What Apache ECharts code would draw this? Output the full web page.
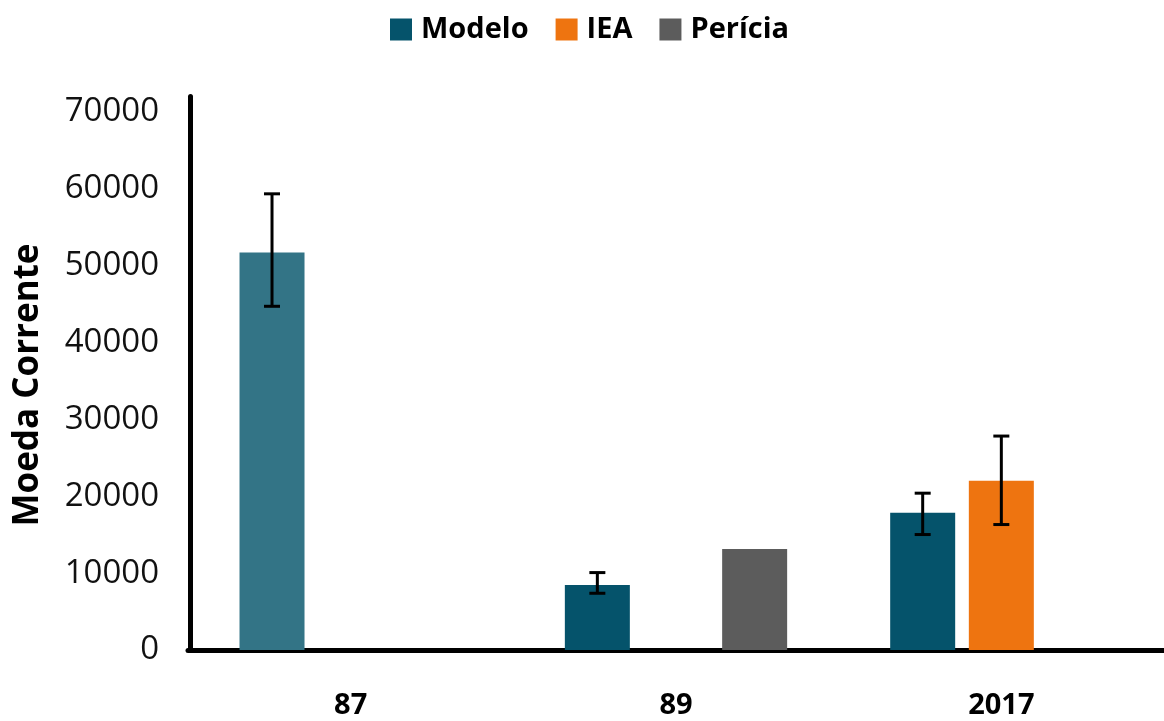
<!DOCTYPE html>
<html>
<head>
<meta charset="utf-8">
<script src="https://cdn.jsdelivr.net/npm/echarts@6/dist/echarts.min.js"></script>
<style>html,body{margin:0;padding:0;background:#fff}#c{width:1164px;height:721px}</style>
</head>
<body>
<div id="c"></div>
<script>
const categories = ['87', '89', '2017'];
const seriesNames = ['Modelo', 'IEA', 'Perícia'];
const modelo = [51700, 8470, 17840];
const iea = [null, null, 22010];
const pericia = [null, 13150, null];
const modeloErrHigh = [59340, 10070, 20400];
const modeloErrLow = [44710, 7380, 15020];
const ieaErrHigh = [null, null, 27830];
const ieaErrLow = [null, null, 16320];
const yTicks = [0, 10000, 20000, 30000, 40000, 50000, 60000, 70000];

const colors = ['#05536B', '#EE7410', '#5C5C5C'];
const firstBarColor = '#337486';
const BAR_W = 65;
const BAR_GAP = 0.21;
const FONT = '"Open Sans", "Noto Sans", sans-serif';

const chart = echarts.init(document.getElementById('c'), null, {renderer: 'canvas'});

function errSeries(seriesIdx, high, low) {
  const data = [];
  high.forEach((h, i) => { if (h != null) data.push([i, low[i], h]); });
  return {
    type: 'custom',
    name: seriesNames[seriesIdx] + ' err',
    z: 10,
    silent: true,
    renderItem: function (params, api) {
      const ci = api.value(0);
      const pLow = api.coord([ci, api.value(1)]);
      const pHigh = api.coord([ci, api.value(2)]);
      const step = BAR_W * (1 + BAR_GAP);
      const x = pLow[0] + (seriesIdx - 1) * step;
      const cap = 8;
      const st = {stroke: '#000', lineWidth: 3};
      return {
        type: 'group',
        children: [
          {type: 'line', shape: {x1: x, y1: pLow[1], x2: x, y2: pHigh[1]}, style: st},
          {type: 'line', shape: {x1: x - cap, y1: pLow[1], x2: x + cap, y2: pLow[1]}, style: st},
          {type: 'line', shape: {x1: x - cap, y1: pHigh[1], x2: x + cap, y2: pHigh[1]}, style: st}
        ]
      };
    },
    encode: {x: 0, y: [1, 2]},
    data: data
  };
}

const option = {
  backgroundColor: '#fff',
  animation: false,
  textStyle: {fontFamily: FONT},
  legend: {
    top: 15,
    left: 390,
    padding: 0,
    icon: 'rect',
    itemWidth: 22,
    itemHeight: 22,
    itemGap: 27,
    data: seriesNames,
    textStyle: {fontFamily: FONT, fontWeight: 'bold', fontSize: 29, color: '#000', padding: [0, 0, 0, 4]}
  },
  grid: {left: 188, width: 980, top: 96.5, height: 650 - 96.5, containLabel: false},
  xAxis: {
    type: 'category',
    data: categories,
    axisLine: {lineStyle: {color: '#000', width: 5}},
    axisTick: {show: false},
    axisLabel: {fontFamily: FONT, fontWeight: 'bold', fontSize: 29, color: '#000', margin: 41}
  },
  yAxis: {
    type: 'value',
    min: 0,
    max: 72000,
    interval: 10000,
    offset: -2,
    axisLine: {show: true, lineStyle: {color: '#000', width: 5}},
    axisTick: {show: false},
    splitLine: {show: false},
    axisLabel: {
      fontFamily: FONT, fontSize: 33, color: '#111', margin: 31,
      formatter: function (v) { return yTicks.indexOf(v) >= 0 ? String(v) : ''; }
    }
  },
  graphic: [{
    type: 'text',
    rotation: Math.PI / 2,
    x: 28, y: 385,
    style: {text: 'Moeda Corrente', font: 'bold 35px ' + FONT, fill: '#000', align: 'center', verticalAlign: 'middle'}
  }],
  series: [
    {
      name: seriesNames[0], type: 'bar', barWidth: BAR_W, barGap: (BAR_GAP * 100) + '%',
      itemStyle: {color: colors[0]},
      data: modelo.map((v, i) => i === 0 ? {value: v, itemStyle: {color: firstBarColor}} : v)
    },
    {name: seriesNames[1], type: 'bar', barWidth: BAR_W, barGap: (BAR_GAP * 100) + '%', itemStyle: {color: colors[1]}, data: iea},
    {name: seriesNames[2], type: 'bar', barWidth: BAR_W, barGap: (BAR_GAP * 100) + '%', itemStyle: {color: colors[2]}, data: pericia},
    errSeries(0, modeloErrHigh, modeloErrLow),
    errSeries(1, ieaErrHigh, ieaErrLow)
  ]
};
chart.setOption(option);
</script>
</body>
</html>
